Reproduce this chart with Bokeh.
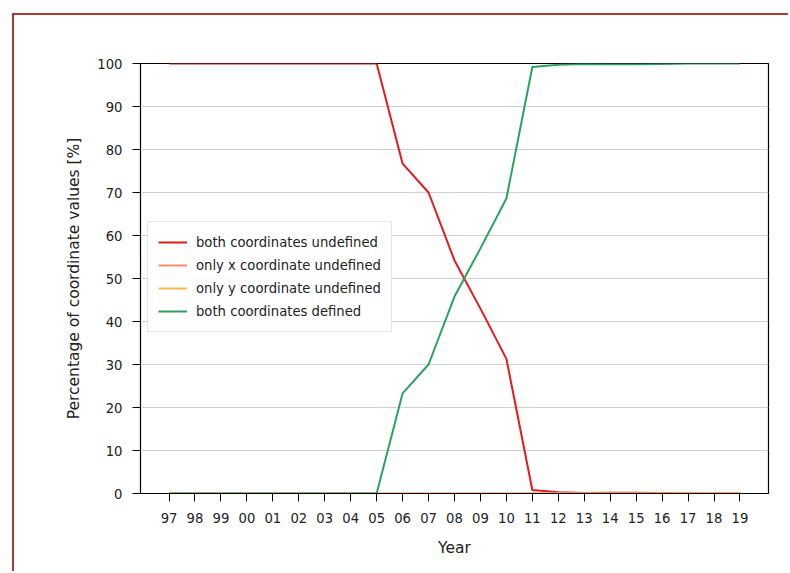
from bokeh.plotting import figure
from bokeh.models import FactorRange, Range1d, Legend, LegendItem, SingleIntervalTicker
from bokeh.embed import file_html
from bokeh.resources import INLINE

years = ["97", "98", "99", "00", "01", "02", "03", "04", "05", "06", "07", "08",
         "09", "10", "11", "12", "13", "14", "15", "16", "17", "18", "19"]

both_undefined = [100, 100, 100, 100, 100, 100, 100, 100, 100, 76.7, 70.0, 54.2,
                  43.0, 31.3, 0.8, 0.3, 0.1, 0.2, 0.2, 0.1, 0.0, 0.0, 0.0]
only_x_undefined = [0.0] * 23
only_y_undefined = [0.0, 0.0, 0.0, 0.0, 0.0, 0.0, 0.0, 0.0, 0.0, 0.0, 0.0, 0.0,
                    0.0, 0.0, 0.0, 0.0, 0.0, 0.0, 0.0, 0.0, 0.0, 0.0, 0.0]
both_defined = [0, 0, 0, 0, 0, 0, 0, 0, 0, 23.3, 30.0, 45.8,
                57.0, 68.6, 99.2, 99.7, 99.9, 99.8, 99.8, 99.9, 100, 100, 100]

series = [
    ("both coordinates undefined", both_undefined, "#e41a1c"),
    ("only x coordinate undefined", only_x_undefined, "#fc8d6a"),
    ("only y coordinate undefined", only_y_undefined, "#feb54a"),
    ("both coordinates defined", both_defined, "#2ca25f"),
]

FONT = "DejaVu Sans"

p = figure(
    x_range=FactorRange(*years, range_padding=0.6, range_padding_units="absolute"),
    y_range=Range1d(0, 100),
    frame_width=628, frame_height=430,
    min_border_left=126, min_border_right=20, min_border_top=48, min_border_bottom=78,
    output_backend="svg", toolbar_location=None,
)
p.styles = {"border-left": "2px solid #b03a34", "border-top": "2px solid #b03a34",
            "margin-left": "12px", "margin-top": "13px"}

items = []
for name, vals, col in series:
    r = p.line(years, vals, line_color=col, line_width=2)
    items.append(LegendItem(label=name, renderers=[r]))

legend = Legend(items=items, location=(7, 161), margin=0, padding=10,
                label_text_font=FONT, label_text_font_size="13.2px",
                label_text_color="#222222",
                glyph_width=29, label_standoff=9, spacing=3, label_height=20,
                glyph_height=20,
                border_line_color="#cccccc", border_line_width=1.5,
                background_fill_color="white", background_fill_alpha=0.9)
p.add_layout(legend, "center")

p.yaxis.ticker = SingleIntervalTicker(interval=10)
p.xgrid.grid_line_color = None
p.ygrid.grid_line_color = "#d0d0d0"
p.ygrid.grid_line_width = 1

for ax in (p.xaxis[0], p.yaxis[0]):
    ax.axis_line_color = "black"
    ax.axis_line_width = 1
    ax.major_tick_line_color = "black"
    ax.major_tick_line_width = 1
    ax.major_tick_out = 8
    ax.major_tick_in = 0
    ax.minor_tick_out = 0
    ax.minor_tick_in = 0
    ax.major_label_text_font = FONT
    ax.major_label_text_font_size = "13.2px"
    ax.major_label_text_color = "#222222"
    ax.axis_label_text_font = FONT
    ax.axis_label_text_font_size = "15.5px"
    ax.axis_label_text_font_style = "normal"
    ax.axis_label_text_color = "#222222"

p.xaxis.major_label_standoff = 11
p.yaxis.major_label_standoff = 10
p.xaxis.axis_label = "Year"
p.yaxis.axis_label = "Percentage of coordinate values [%]"
p.xaxis.axis_label_standoff = 13
p.yaxis.axis_label_standoff = 11

p.outline_line_color = "black"
p.outline_line_width = 1.2
p.background_fill_color = "white"
p.border_fill_color = "white"

open("out.html", "w").write(file_html(p, INLINE))
